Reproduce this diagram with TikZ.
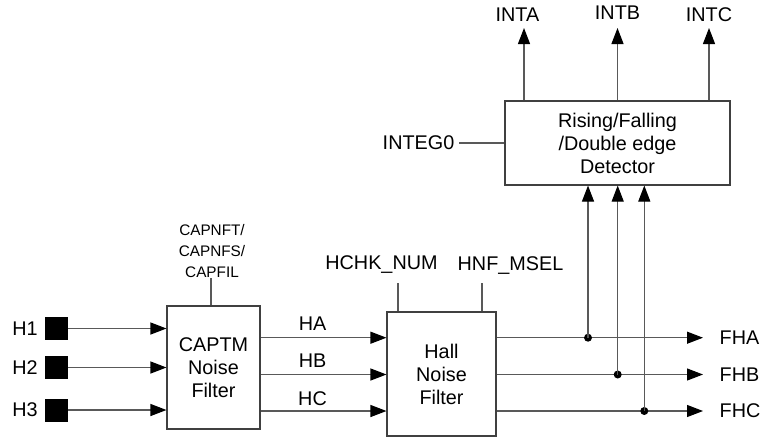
\documentclass[tikz,border=0pt]{standalone}
\usepackage{fontspec}
\setmainfont{Liberation Sans}
\usetikzlibrary{arrows.meta}
\newcommand{\mainfs}{\fontsize{19.8}{23}\selectfont}
\newcommand{\smallfs}{\fontsize{15.3}{21}\selectfont}
\begin{document}
\begin{tikzpicture}[x=1pt,y=-1pt,
 wire/.style={draw=black!65, line width=1.1pt},
 arr/.style={wire, -{Triangle[length=16pt,width=12pt,color=black]}},
 blk/.style={draw=black!75, line width=1.1pt, fill=white, inner sep=0pt, align=center, font=\mainfs},
 lbl/.style={inner sep=0pt, font=\mainfs},
 sq/.style={fill=black, minimum size=23pt, inner sep=0pt},
 jdot/.style={circle, fill=black, minimum size=8pt, inner sep=0pt}]
\useasboundingbox (0,0) rectangle (762,437);

% blocks
\node[blk, minimum width=93pt, minimum height=123pt] (captm) at (213.5,367.5) {CAPTM\\Noise\\Filter};
\node[blk, minimum width=109pt, minimum height=124pt] (hall) at (441.5,374) {Hall\\Noise\\Filter};
\node[blk, minimum width=225pt, minimum height=84pt] (det) at (617.5,143) {Rising/Falling\\/Double edge\\Detector};

% inputs
\node[sq] (s1) at (56.5,328.5) {};
\node[sq] (s2) at (56.5,367.5) {};
\node[sq] (s3) at (56.5,410) {};
\node[lbl] (h1) at (25,328.5) {H1};
\node[lbl] (h2) at (25,367.5) {H2};
\node[lbl] (h3) at (25,410) {H3};
\draw[arr] (s1.east) -- (s1.east -| captm.west);
\draw[arr] (s2.east) -- (s2.east -| captm.west);
\draw[arr] (s3.east) -- (s3.east -| captm.west);

% CAPTM control
\node[lbl, font=\smallfs, align=center] (cap) at (212,251) {CAPNFT/\\CAPNFS/\\CAPFIL};
\coordinate (capl) at (211,278);
\draw[wire] (capl) -- (capl |- captm.north);

% HA HB HC
\coordinate (ya) at (0,337.7);
\coordinate (yb) at (0,374.5);
\coordinate (yc) at (0,411);
\draw[arr] (captm.east |- ya) -- (hall.west |- ya);
\draw[arr] (captm.east |- yb) -- (hall.west |- yb);
\draw[arr] (captm.east |- yc) -- (hall.west |- yc);
\node[lbl] (ha) at (312.5,324) {HA};
\node[lbl] (hb) at (312.5,361) {HB};
\node[lbl] (hc) at (312.5,399) {HC};

% Hall controls
\node[lbl] (hchk) at (381.5,264.5) {HCHK\_NUM};
\node[lbl] (hnf) at (510.5,266) {HNF\_MSEL};
\coordinate (hchkl) at (398,283);
\coordinate (hnfl) at (482,283);
\draw[wire] (hchkl) -- (hchkl |- hall.north);
\draw[wire] (hnfl) -- (hnfl |- hall.north);

% outputs
\coordinate (ea) at (703,337.7);
\coordinate (eb) at (703,374.5);
\coordinate (ec) at (703,411);
\draw[arr] (hall.east |- ea) -- (ea);
\draw[arr] (hall.east |- eb) -- (eb);
\draw[arr] (hall.east |- ec) -- (ec);
\node[lbl, anchor=west] (fha) at (719.5,337.7) {FHA};
\node[lbl, anchor=west] (fhb) at (719.5,374.5) {FHB};
\node[lbl, anchor=west] (fhc) at (719.5,411) {FHC};

% taps to detector
\node[jdot] (da) at (588,337.7) {};
\node[jdot] (db) at (617.7,374.5) {};
\node[jdot] (dc) at (644.3,411) {};
\draw[arr] (da.center) -- (da |- det.south);
\draw[arr] (db.center) -- (db |- det.south);
\draw[arr] (dc.center) -- (dc |- det.south);

% INTEG0
\node[lbl] (integ) at (418.5,143) {INTEG0};
\draw[wire] ([xshift=5pt]integ.east) -- (det.west);

% interrupt outputs
\node[lbl] (inta) at (517.5,15) {INTA};
\node[lbl] (intb) at (617.5,13) {INTB};
\node[lbl] (intc) at (709,15) {INTC};
\coordinate (ta) at (524,28);
\coordinate (tb) at (617.5,28);
\coordinate (tc) at (709,28);
\draw[arr] (det.north -| ta) -- (ta);
\draw[arr] (det.north -| tb) -- (tb);
\draw[arr] (det.north -| tc) -- (tc);
\end{tikzpicture}
\end{document}
